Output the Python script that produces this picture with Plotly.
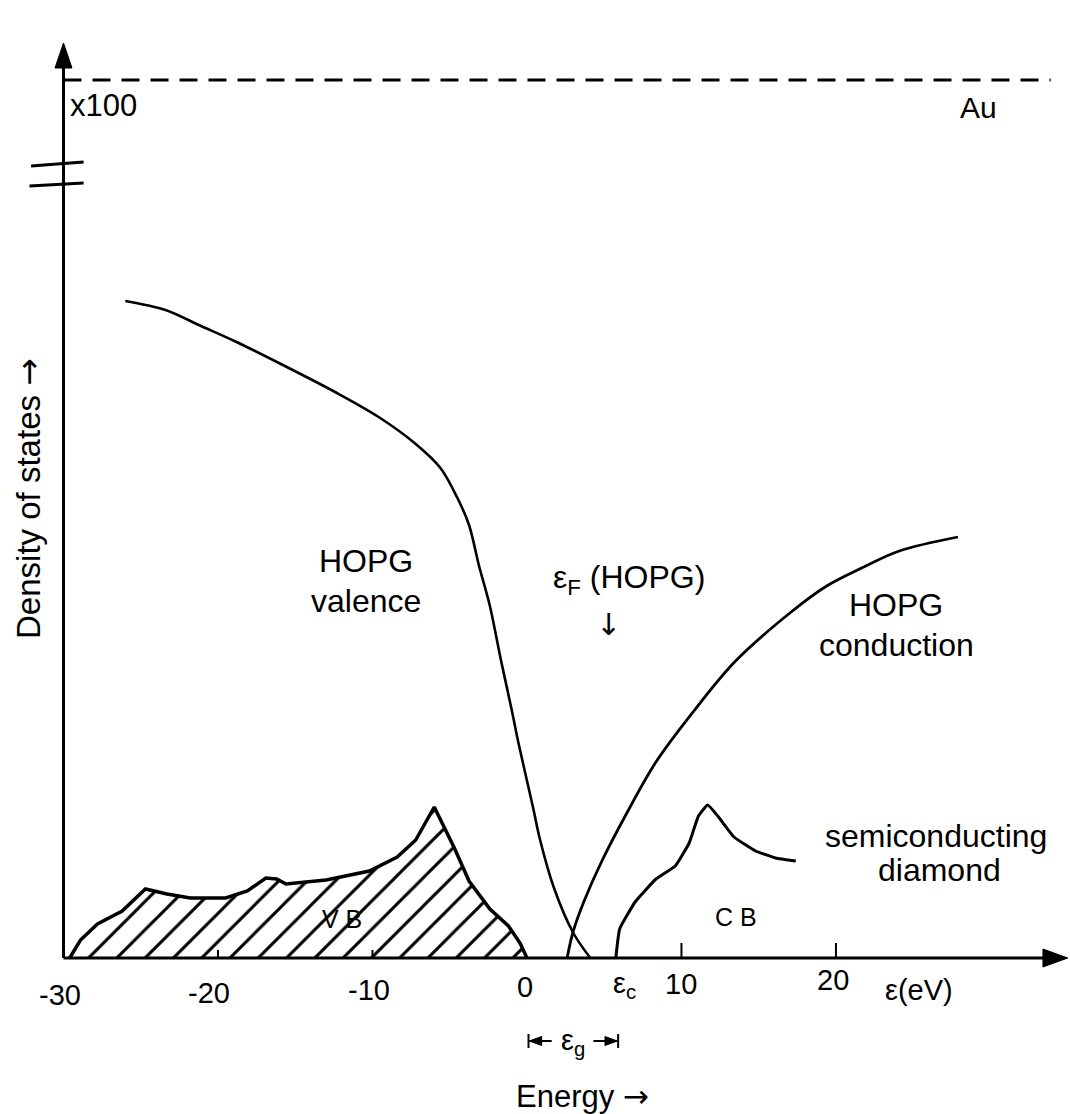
import plotly.graph_objects as go

# ---- data (energy in eV, density of states in arbitrary units) ----
hopg_val_E = [-26.0, -23.4, -21.1, -18.8, -15.8, -12.3, -9.6, -7.2, -5.6, -4.5, -3.75, -3.1,
              -2.4, -1.7, -1.0, -0.55, 0.4, 0.85, 1.75, 3.0, 4.1]
hopg_val_D = [657, 648, 632, 616, 593, 565, 541, 514, 490, 460, 433, 392,
              352, 299, 249, 215, 150, 118, 70, 25, 0]

hopg_cond_E = [2.6, 3.0, 3.7, 4.85, 6.5, 8.35, 10.7, 13.5, 17.1, 19.4, 21.8, 24.1, 27.9]
hopg_cond_D = [0, 27, 57, 97, 146, 196, 245, 297, 346, 372, 391, 407, 421]

dia_vb_E = [-29.6, -28.9, -27.8, -26.2, -24.7, -23.3, -21.8, -19.5, -18.1, -16.9, -16.2, -15.6,
            -13.0, -10.2, -8.4, -7.2, -6.0, -4.7, -3.75, -2.4, -1.2, -0.45, 0.0]
dia_vb_D = [0, 18, 34, 47, 69, 64, 60, 60, 67, 80, 79, 74,
            78, 87, 101, 118, 151, 110, 77, 49, 32, 15, 0]

dia_cb_E = [5.75, 6.0, 7.0, 8.35, 9.6, 10.5, 11.1, 11.7, 12.4, 13.4, 14.8, 16.1, 17.4]
dia_cb_D = [0, 29, 56, 79, 92, 115, 142, 153, 141, 121, 107, 100, 97]

au_E = [-30.0, 33.9]
au_D = [878, 878]

tick_vals = [-30, -20, -10, 0, 10, 20]
tick_text = ["-30", "-20", "-10", "0", "10", "20"]

FONT = "Liberation Sans, Arial, Helvetica, sans-serif"
ARROW = "<span style='font-family:DejaVu Sans'>{}</span>"

fig = go.Figure()

# hatched diamond valence band
fig.add_trace(go.Scatter(x=dia_vb_E, y=dia_vb_D, mode="lines", fill="tozeroy",
                         line=dict(color="black", width=3.5),
                         fillcolor="white",
                         fillpattern=dict(shape="/", fgcolor="black", bgcolor="white",
                                          fgopacity=1, size=20, solidity=0.15),
                         hoverinfo="skip", showlegend=False))
fig.add_trace(go.Scatter(x=dia_cb_E, y=dia_cb_D, mode="lines",
                         line=dict(color="black", width=3, shape="spline", smoothing=0.35),
                         hoverinfo="skip", showlegend=False))
fig.add_trace(go.Scatter(x=hopg_val_E, y=hopg_val_D, mode="lines",
                         line=dict(color="black", width=2.6, shape="spline", smoothing=0.9),
                         hoverinfo="skip", showlegend=False))
fig.add_trace(go.Scatter(x=hopg_cond_E, y=hopg_cond_D, mode="lines",
                         line=dict(color="black", width=2.8, shape="spline", smoothing=1.0),
                         hoverinfo="skip", showlegend=False))
fig.add_trace(go.Scatter(x=au_E, y=au_D, mode="lines",
                         line=dict(color="black", width=3, dash="18px,11px"),
                         hoverinfo="skip", showlegend=False))

shapes = []
BLK = dict(color="black", width=3)


def tri(points):
    d = "M " + " L ".join(f"{px},{py}" for px, py in points) + " Z"
    shapes.append(dict(type="path", xref="x", yref="y", path=d,
                       fillcolor="black", line=dict(color="black", width=1)))


# break marks on the y axis
shapes.append(dict(type="line", xref="x", yref="y", x0=-32.1, y0=792, x1=-28.7, y1=796, line=BLK))
shapes.append(dict(type="line", xref="x", yref="y", x0=-32.2, y0=772, x1=-28.7, y1=775, line=BLK))
# ticks on the energy axis
for tv in tick_vals:
    if tv in (10, 20):
        shapes.append(dict(type="line", xref="x", yref="y", x0=tv, y0=0, x1=tv, y1=15,
                           line=dict(color="black", width=2)))
    elif tv in (-20, -10):
        shapes.append(dict(type="line", xref="x", yref="y", x0=tv, y0=0, x1=tv, y1=8,
                           line=dict(color="black", width=2)))
# band-gap bracket: bars, shafts and heads
for xb in (0.1, 5.9):
    shapes.append(dict(type="line", xref="x", yref="y", x0=xb, y0=-76, x1=xb, y1=-90,
                       line=dict(color="black", width=2)))
shapes.append(dict(type="line", xref="x", yref="y", x0=0.2, y0=-83, x1=1.6, y1=-83,
                   line=dict(color="black", width=2)))
shapes.append(dict(type="line", xref="x", yref="y", x0=4.3, y0=-83, x1=5.8, y1=-83,
                   line=dict(color="black", width=2)))
tri([(0.15, -83), (0.95, -78.5), (0.95, -87.5)])
tri([(5.85, -83), (5.05, -78.5), (5.05, -87.5)])
# axes lines and arrow heads
shapes.append(dict(type="line", xref="x", yref="y", x0=-30.0, y0=0, x1=34.0, y1=0, line=BLK))
shapes.append(dict(type="line", xref="x", yref="y", x0=-30.0, y0=0, x1=-30.0, y1=900, line=BLK))
tri([(35.0, 0), (33.4, 9), (33.4, -9)])
tri([(-30.0, 915), (-30.55, 890), (-29.45, 890)])

ann = []


def txt(x, y, s, size, xanchor="center", angle=0):
    ann.append(dict(x=x, y=y, xref="x", yref="y", text=s, showarrow=False,
                    xanchor=xanchor, yanchor="middle", textangle=angle,
                    font=dict(family=FONT, size=size, color="black")))


# tick labels
tick_y = [-37, -35, -32, -29, -26, -22]
tick_x = [-30.2, -20.6, -10.2, -0.1, 10.0, 19.8]
for tx, ty, tt in zip(tick_x, tick_y, tick_text):
    txt(tx, ty, tt, 29)
txt(6.3, -27, "ε<sub>c</sub>", 29)
txt(25.4, -32, "ε(eV)", 29)
txt(3.0, -84, "ε<sub>g</sub>", 29)
txt(3.6, -138, "Energy " + ARROW.format("→"), 31)

# curve labels
txt(-29.7, 853, "x100", 31, xanchor="left")
txt(29.2, 851, "Au", 30)
txt(-10.4, 397, "HOPG", 32)
txt(-10.4, 357, "valence", 32)
txt(6.6, 379, "ε<sub>F</sub> (HOPG)", 32)
txt(5.3, 334, ARROW.format("↓"), 30)
txt(23.9, 353, "HOPG", 32)
txt(23.9, 313, "conduction", 32)
txt(26.5, 122, "semiconducting", 32)
txt(26.7, 88, "diamond", 32)
txt(-12.0, 39, "V B", 25)
txt(13.5, 41, "C B", 25)

# y-axis title
txt(-32.3, 460, "Density of states " + ARROW.format("→"), 33, angle=-90)

fig.update_layout(
    width=1070, height=1114,
    margin=dict(l=0, r=0, t=0, b=0),
    paper_bgcolor="white", plot_bgcolor="white",
    xaxis=dict(range=[-34.11, 35.15], visible=False, fixedrange=True),
    yaxis=dict(range=[-156, 958], visible=False, fixedrange=True),
    shapes=shapes, annotations=ann, showlegend=False,
)

fig.write_html("out.html")
